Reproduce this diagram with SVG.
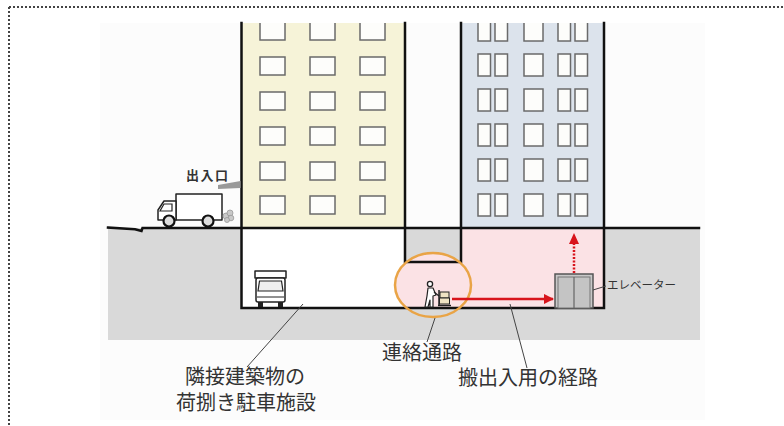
<svg xmlns="http://www.w3.org/2000/svg" width="784" height="426" viewBox="0 0 784 426">
  <style>
    .wall { stroke: #111; stroke-width: 2.5; fill: none; stroke-linecap: square; }
    .win { fill: #fdfdfb; stroke: #6a6a6a; stroke-width: 1.5; }
    .ink { stroke: #222; stroke-width: 1.5; fill: #fff; stroke-linejoin: round; }
    .lead { stroke: #444; stroke-width: 1; fill: none; }
    .lbl { font-family: "Noto Sans CJK JP", "Noto Sans", sans-serif; fill: #333; }
    .big { font-size: 20px; text-anchor: middle; }
    .route { stroke: #d8141c; stroke-width: 2.5; fill: none; }
  </style>
  <defs>
    <clipPath id="sky"><rect x="100" y="23" width="605" height="205"/></clipPath>
    <clipPath id="under"><rect x="241" y="228" width="364" height="80"/></clipPath>
    <marker id="head" viewBox="0 0 10 10" refX="9" refY="5" markerWidth="4.2" markerHeight="4.2" orient="auto">
      <path d="M0,0 L10,5 L0,10 Z" fill="#d8141c"/>
    </marker>
  </defs>

  <!-- page frame (dotted, top and left) -->
  <g id="frame" stroke="#444" stroke-width="2" stroke-dasharray="2 2" fill="none">
    <line x1="9" y1="7" x2="784" y2="7"/>
    <line x1="9" y1="7" x2="9" y2="426"/>
  </g>

  <rect x="100" y="23" width="605" height="397" fill="#fcfcfc"/>

  <!-- soil -->
  <g id="ground">
    <rect x="108" y="228" width="592" height="112" fill="#d9d9d9"/>
  </g>

  <!-- building A (cream) -->
  <g id="building-a" clip-path="url(#sky)">
    <rect x="241" y="0" width="164" height="228" fill="#f6f3d8"/>
    <g class="win">
      <rect x="260" y="22" width="25" height="18"/><rect x="310" y="22" width="25" height="18"/><rect x="360" y="22" width="25" height="18"/>
      <rect x="260" y="57" width="25" height="18"/><rect x="310" y="57" width="25" height="18"/><rect x="360" y="57" width="25" height="18"/>
      <rect x="260" y="92" width="25" height="18"/><rect x="310" y="92" width="25" height="18"/><rect x="360" y="92" width="25" height="18"/>
      <rect x="260" y="127" width="25" height="18"/><rect x="310" y="127" width="25" height="18"/><rect x="360" y="127" width="25" height="18"/>
      <rect x="260" y="162" width="25" height="18"/><rect x="310" y="162" width="25" height="18"/><rect x="360" y="162" width="25" height="18"/>
      <rect x="260" y="196" width="25" height="18"/><rect x="310" y="196" width="25" height="18"/><rect x="360" y="196" width="25" height="18"/>
    </g>
  </g>

  <!-- building B (blue) -->
  <g id="building-b" clip-path="url(#sky)">
    <rect x="461" y="0" width="143" height="228" fill="#dce3ec"/>
    <g class="win">
      <rect x="478" y="19" width="12.5" height="22"/><rect x="495" y="19" width="12.5" height="22"/><rect x="524" y="19" width="19" height="22"/><rect x="558" y="19" width="12.5" height="22"/><rect x="575" y="19" width="12.5" height="22"/>
      <rect x="478" y="54" width="12.5" height="22"/><rect x="495" y="54" width="12.5" height="22"/><rect x="524" y="54" width="19" height="22"/><rect x="558" y="54" width="12.5" height="22"/><rect x="575" y="54" width="12.5" height="22"/>
      <rect x="478" y="89" width="12.5" height="22"/><rect x="495" y="89" width="12.5" height="22"/><rect x="524" y="89" width="19" height="22"/><rect x="558" y="89" width="12.5" height="22"/><rect x="575" y="89" width="12.5" height="22"/>
      <rect x="478" y="124" width="12.5" height="22"/><rect x="495" y="124" width="12.5" height="22"/><rect x="524" y="124" width="19" height="22"/><rect x="558" y="124" width="12.5" height="22"/><rect x="575" y="124" width="12.5" height="22"/>
      <rect x="478" y="159" width="12.5" height="22"/><rect x="495" y="159" width="12.5" height="22"/><rect x="524" y="159" width="19" height="22"/><rect x="558" y="159" width="12.5" height="22"/><rect x="575" y="159" width="12.5" height="22"/>
      <rect x="478" y="194" width="12.5" height="22"/><rect x="495" y="194" width="12.5" height="22"/><rect x="524" y="194" width="19" height="22"/><rect x="558" y="194" width="12.5" height="22"/><rect x="575" y="194" width="12.5" height="22"/>
    </g>
  </g>

  <!-- basements: loading bay (white), passage and route (pink) -->
  <g id="basement">
    <rect x="241" y="228" width="164" height="80" fill="#ffffff"/>
    <rect x="405" y="262" width="199" height="46" fill="#fbe2e5"/>
    <rect x="461" y="228" width="143" height="34" fill="#fbe2e5"/>
  </g>

  <!-- link passage highlight -->
  <g id="passage">
    <ellipse cx="433" cy="285" rx="38" ry="32" fill="#fbe2e5" clip-path="url(#under)"/>
  </g>

  <!-- structure lines -->
  <g id="structure" class="wall">
    <path d="M108,227.5 L135,229.3 L141.5,231 L142.5,228 L699,228"/>
    <path d="M241.5,23 V308 H604 V23"/>
    <path d="M405,23 V262 H461 V23"/>
  </g>

  <g id="passage-ring">
    <ellipse cx="433" cy="285" rx="38" ry="32" fill="none" stroke="#e9a446" stroke-width="2.5"/>
  </g>

  <!-- truck on the street -->
  <g id="truck-road">
    <rect x="176" y="194" width="46" height="26" class="ink"/>
    <path d="M176,201 H164 L158,210 V220 H176 Z" class="ink"/>
    <path d="M164,204 H172 V211 H160 Z" fill="none" stroke="#222" stroke-width="1.2"/>
    <circle cx="169" cy="221" r="5.5" fill="#ddd" stroke="#111" stroke-width="2.2"/>
    <circle cx="208" cy="221" r="5.5" fill="#ddd" stroke="#111" stroke-width="2.2"/>
    <g fill="#c9c9c9" stroke="#999" stroke-width="0.8">
      <circle cx="226" cy="216" r="3"/><circle cx="230" cy="213" r="3"/><circle cx="231" cy="218" r="2.8"/><circle cx="227" cy="220" r="2.5"/>
    </g>
  </g>

  <!-- entrance canopy -->
  <g id="entrance">
    <polygon points="218,185 240.5,181 240.5,188 218,189" fill="#9a9a9a"/>
    <text x="186" y="180" class="lbl" font-size="13" font-weight="bold" letter-spacing="1.5" fill="#444">出入口</text>
  </g>

  <!-- truck parked in loading bay (front view) -->
  <g id="truck-parked">
    <rect x="255" y="271" width="31" height="7" class="ink"/>
    <rect x="256" y="278" width="29" height="24" rx="2" class="ink"/>
    <path d="M259.5,281 H281.5 L283,291 H258 Z" fill="#eee" stroke="#222" stroke-width="1.2"/>
    <line x1="257" y1="297" x2="284" y2="297" stroke="#222" stroke-width="1"/>
    <rect x="258" y="302" width="5" height="5" fill="#222"/>
    <rect x="278" y="302" width="5" height="5" fill="#222"/>
  </g>

  <!-- worker with hand cart -->
  <g id="worker">
    <circle cx="430" cy="284" r="2.6" fill="#fff" stroke="#222" stroke-width="1.3"/>
    <path d="M428,288 H433 L436,295 L433,296 L433,307 H430 L430,300 L428,307 H425 L427,296 Z" fill="#fff" stroke="#222" stroke-width="1.2" stroke-linejoin="round"/>
    <line x1="434" y1="292" x2="439" y2="296" stroke="#222" stroke-width="1.2"/>
    <line x1="439" y1="290" x2="439" y2="306" stroke="#222" stroke-width="1.5"/>
    <rect x="440" y="292" width="9" height="6" fill="#efe3c4" stroke="#222" stroke-width="1"/>
    <rect x="439.5" y="298" width="10" height="6" fill="#efe3c4" stroke="#222" stroke-width="1"/>
    <line x1="438" y1="305.5" x2="451" y2="305.5" stroke="#222" stroke-width="1.4"/>
  </g>

  <!-- elevator -->
  <g id="elevator">
    <rect x="555" y="274" width="38" height="34" fill="#c8c8c8" stroke="#555" stroke-width="1.5"/>
    <rect x="558" y="277" width="32" height="31" fill="#c4c4c4" stroke="#777" stroke-width="1"/>
    <line x1="574" y1="277" x2="574" y2="308" stroke="#666" stroke-width="1.2"/>
    <text x="607" y="289" class="lbl" font-size="11.5">エレベーター</text>
  </g>

  <!-- connectors: route arrows and label leaders -->
  <g id="connectors">
    <line x1="452" y1="299" x2="553" y2="299" class="route" marker-end="url(#head)"/>
    <line x1="574" y1="273" x2="574" y2="244" class="route" stroke-width="2" stroke-dasharray="2 1.5"/>
    <polygon points="574,233 579,244 569,244" fill="#d8141c"/>
    <line x1="593" y1="290" x2="606" y2="286" class="lead"/>
    <line x1="303" y1="304" x2="247" y2="367" class="lead"/>
    <line x1="435" y1="318" x2="427" y2="342" class="lead"/>
    <line x1="510" y1="304" x2="527" y2="368" class="lead"/>
  </g>

  <!-- captions -->
  <g id="captions" class="lbl big">
    <text x="422" y="360">連絡通路</text>
    <text x="245" y="384">隣接建築物の<tspan x="246" dy="26">荷捌き駐車施設</tspan></text>
    <text x="528" y="385">搬出入用の経路</text>
  </g>
</svg>
